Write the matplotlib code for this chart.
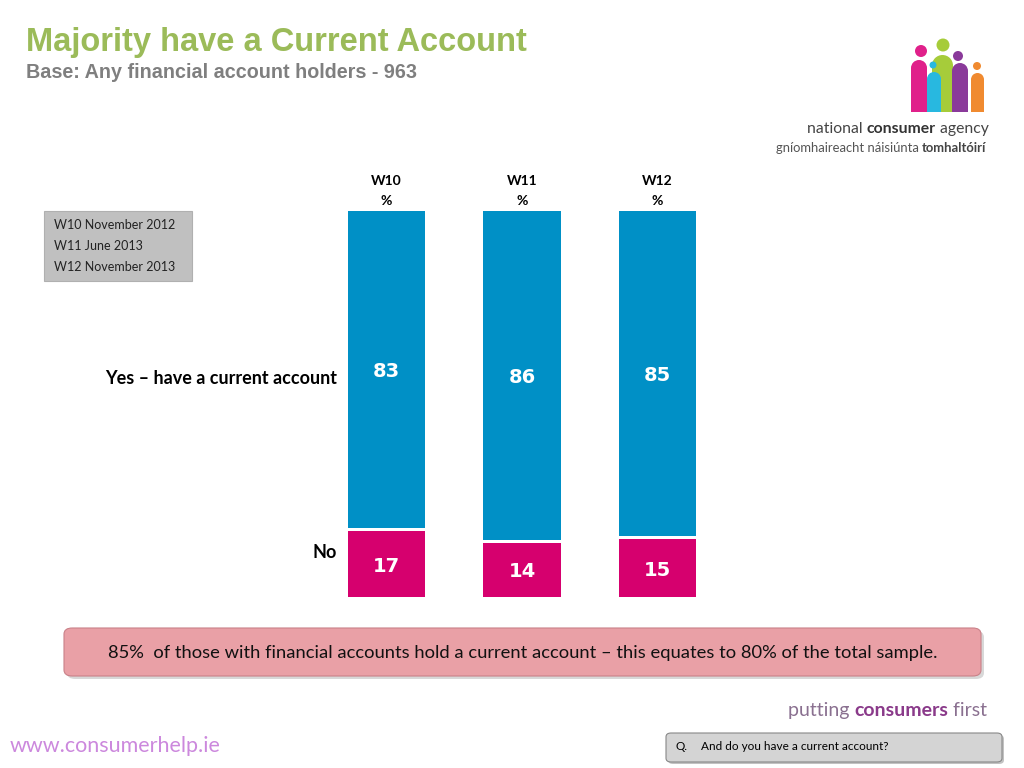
import matplotlib
matplotlib.use("Agg")
import matplotlib.pyplot as plt
from matplotlib.patches import FancyBboxPatch, Rectangle, Ellipse
from matplotlib.text import Annotation
import numpy as np

# ---- data ----
waves = ["W10", "W11", "W12"]
wave_dates = ["W10 November 2012", "W11 June 2013", "W12 November 2013"]
yes_values = [83, 86, 85]
no_values = [17, 14, 15]
yes_label = "Yes \u2013 have a current account"
no_label = "No"

W, H = 1024, 768
fig = plt.figure(figsize=(W / 100, H / 100), dpi=100)
fig.patch.set_facecolor("white")

def fx(x):
    return x / W

def fy(y):
    return 1 - y / H

BLUE = "#0090c6"
PINK = "#d6006e"
GREEN = "#9bbb59"
CAL = ["Lato", "DejaVu Sans"]

# ---- chart axes ----
ax_left, ax_right = 318.75, 725.25
ax_top, ax_bot = 211, 597
ax = fig.add_axes([fx(ax_left), fy(ax_bot), fx(ax_right - ax_left), (ax_bot - ax_top) / H])
ax.set_xlim(-0.5, 2.5)
ax.set_ylim(0, 100)
ax.axis("off")
x = np.arange(len(waves))
bw = 0.57
gap = 0.8
ax.bar(x, no_values, width=bw, color=PINK, edgecolor="none")
ax.bar(x, np.array(yes_values) - gap, bottom=np.array(no_values) + gap,
       width=bw, color=BLUE, edgecolor="none")
for i in range(len(waves)):
    ax.text(x[i], no_values[i] + gap + (yes_values[i] - gap) / 2, str(yes_values[i]),
            ha="center", va="center_baseline", color="white", fontsize=14, fontweight="bold",
            family="DejaVu Sans")
    ax.text(x[i], no_values[i] / 2, str(no_values[i]),
            ha="center", va="center_baseline", color="white", fontsize=14, fontweight="bold",
            family="DejaVu Sans")
    ax.text(x[i], 107.7, waves[i], ha="center", va="center", fontsize=10,
            fontweight="bold", family=CAL)
    ax.text(x[i], 102.6, "%", ha="center", va="center", fontsize=10,
            fontweight="bold", family=CAL)

# row labels
fig.text(fx(337), fy(378), yes_label, ha="right", va="center", fontsize=13,
         fontweight="bold", family=CAL)
fig.text(fx(337), fy(553), no_label, ha="right", va="center", fontsize=13,
         fontweight="bold", family=CAL)

# ---- title ----
fig.text(fx(26), fy(42), "Majority have a Current Account", ha="left", va="center",
         fontsize=23.5, fontweight="bold", color=GREEN, family="Liberation Sans")
fig.text(fx(26), fy(72), "Base: Any financial account holders - 963", ha="left",
         va="center", fontsize=14.2, fontweight="bold", color="#7f7f7f",
         family="Liberation Sans")

# ---- legend box ----
fig.patches.append(Rectangle((fx(44), fy(281)), fx(148), (281 - 211) / H,
                             transform=fig.transFigure, facecolor="#c0c0c0",
                             edgecolor="#b0b0b0", lw=0.8))
for j, t in enumerate(wave_dates):
    fig.text(fx(54), fy(225 + 21 * j), t, ha="left", va="center", fontsize=9,
             family=CAL, color="#222222")

# ---- banner ----
fig.patches.append(FancyBboxPatch((fx(67), fy(679)), fx(917), (677 - 629) / H,
                                  boxstyle="round,pad=0,rounding_size=0.008",
                                  transform=fig.transFigure, facecolor="#c8c8c8",
                                  edgecolor="none", alpha=0.7))
fig.patches.append(FancyBboxPatch((fx(64), fy(676)), fx(917), (676 - 628) / H,
                                  boxstyle="round,pad=0,rounding_size=0.008",
                                  transform=fig.transFigure, facecolor="#e9a0a6",
                                  edgecolor="#c98088", lw=0.8))
fig.text(fx(523), fy(653),
         "85%  of those with financial accounts hold a current account \u2013 this equates to 80% of the total sample.",
         ha="center", va="center", fontsize=13.2, family=CAL, color="#111111")

# ---- question box ----
fig.patches.append(FancyBboxPatch((fx(668), fy(764)), fx(336), (762 - 733) / H,
                                  boxstyle="round,pad=0,rounding_size=0.005",
                                  transform=fig.transFigure, facecolor="#9a9a9a",
                                  edgecolor="none", alpha=0.6))
fig.patches.append(FancyBboxPatch((fx(666), fy(762)), fx(336), (762 - 733) / H,
                                  boxstyle="round,pad=0,rounding_size=0.005",
                                  transform=fig.transFigure, facecolor="#d4d4d4",
                                  edgecolor="#888888", lw=0.8))
fig.text(fx(676), fy(747), "Q.", ha="left", va="center", fontsize=8.5, family=CAL)
fig.text(fx(701), fy(747), "And do you have a current account?", ha="left",
         va="center", fontsize=8.5, family=CAL)

# ---- footer ----
fig.text(fx(10), fy(746), "www.consumerhelp.ie", ha="left", va="center",
         fontsize=15.5, family=CAL, color="#cc88dd")

def chain(parts, x0, y0, size):
    prev = None
    for txt, color, weight in parts:
        if prev is None:
            prev = fig.text(fx(x0), fy(y0), txt, ha="left", va="baseline", fontsize=size,
                            family=CAL, color=color, fontweight=weight)
        else:
            a = Annotation(txt, xy=(1, 0), xycoords=prev, ha="left", va="bottom",
                           fontsize=size, family=CAL, color=color, fontweight=weight)
            prev = fig.add_artist(a)

chain([("putting ", "#8a7090", "normal"), ("consumers", "#8a3a8a", "bold"),
       (" first", "#8a7090", "normal")], 788, 716, 14)

# ---- logo ----
def person(x0, x1, top, head_c, head_r, color):
    w = x1 - x0
    r = w / 2
    fig.patches.append(Rectangle((fx(x0), fy(112)), fx(w), (112 - top - r) / H,
                                 transform=fig.transFigure, facecolor=color, edgecolor="none"))
    fig.patches.append(Ellipse((fx(x0 + r), fy(top + r)), fx(w), 2 * r / H,
                               transform=fig.transFigure, facecolor=color, edgecolor="none"))
    fig.patches.append(Ellipse((fx(head_c[0]), fy(head_c[1])), 2 * fx(head_r), 2 * head_r / H,
                               transform=fig.transFigure, facecolor=color, edgecolor="none"))

person(911, 927, 60, (921, 51), 6, "#e0208a")
person(932, 953, 55, (943, 45), 6.5, "#a6cc3a")
person(971, 984, 73, (977, 66), 4, "#f08a30")
person(952, 968, 63, (958, 56), 5, "#8a3a9a")
person(927, 941, 72, (933, 65), 3.5, "#28b8e0")

chain([("national ", "#444444", "normal"), ("consumer", "#333333", "bold"),
       (" agency", "#444444", "normal")], 807, 133, 11.3)
chain([("gníomhaireacht náisiúnta ", "#555555", "normal"),
       ("tomhaltóirí", "#444444", "bold")], 776, 152, 9.4)

fig.savefig("out.png", dpi=100, facecolor="white")
